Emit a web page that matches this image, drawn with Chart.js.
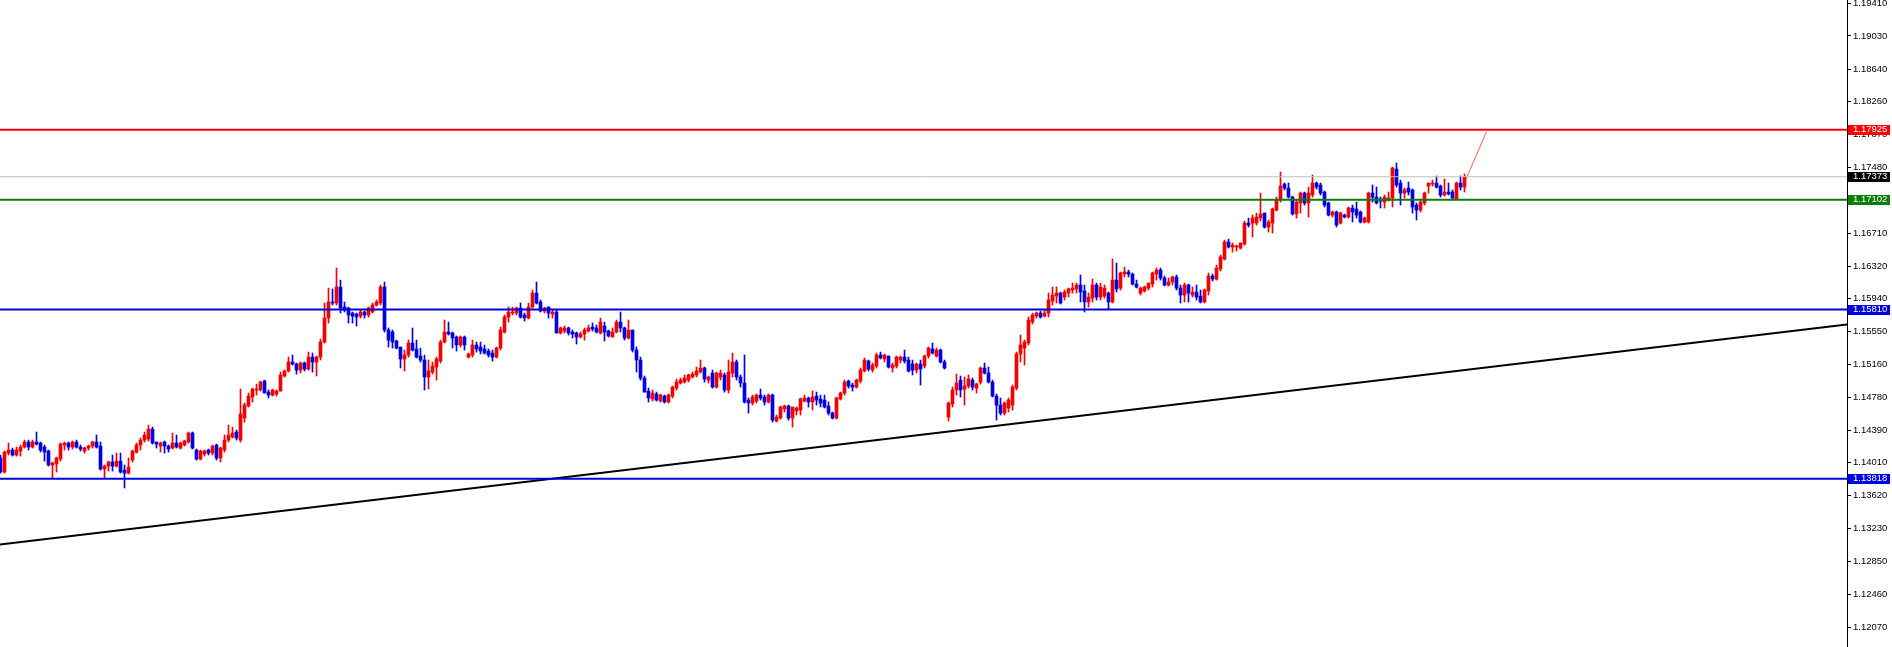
<!DOCTYPE html>
<html>
<head>
<meta charset="utf-8">
<script src="https://cdn.jsdelivr.net/npm/chart.js@4.4.0/dist/chart.umd.min.js"></script>
<style>
  html, body { margin: 0; padding: 0; background: #fff; overflow: hidden; }
</style>
</head>
<body>
<canvas id="chart" width="1892" height="647"></canvas>
<script>
// EURUSD-style candles, one entry per bar (oldest first)
const opens = [1.14063,1.13898,1.14121,1.14157,1.14098,1.14145,1.14192,1.14251,1.14192,1.14251,
1.14239,1.14192,1.14145,1.13980,1.13992,1.14051,1.14216,1.14239,1.14192,1.14251,
1.14192,1.14145,1.14180,1.14204,1.14251,1.14204,1.13933,1.13968,1.14016,1.13968,
1.14027,1.13921,1.13886,1.14039,1.14133,1.14216,1.14274,1.14286,1.14404,1.14251,
1.14204,1.14251,1.14204,1.14180,1.14239,1.14180,1.14216,1.14251,1.14357,1.14157,
1.14051,1.14110,1.14157,1.14121,1.14216,1.14063,1.14157,1.14274,1.14310,1.14369,
1.14274,1.14533,1.14675,1.14780,1.14863,1.14863,1.14969,1.14839,1.14804,1.14816,
1.14851,1.15028,1.15087,1.15193,1.15169,1.15098,1.15181,1.15110,1.15251,1.15193,
1.15251,1.15428,1.15710,1.15899,1.15887,1.16075,1.15840,1.15828,1.15769,1.15757,
1.15734,1.15781,1.15746,1.15781,1.15863,1.15887,1.16075,1.15569,1.15546,1.15440,
1.15369,1.15228,1.15275,1.15416,1.15346,1.15263,1.15216,1.15016,1.15075,1.15134,
1.15204,1.15428,1.15546,1.15534,1.15487,1.15393,1.15487,1.15251,1.15275,1.15393,
1.15369,1.15346,1.15322,1.15298,1.15251,1.15357,1.15546,1.15722,1.15769,1.15769,
1.15828,1.15746,1.15710,1.15840,1.16004,1.15899,1.15793,1.15840,1.15757,1.15781,
1.15534,1.15557,1.15593,1.15546,1.15534,1.15487,1.15522,1.15557,1.15604,1.15593,
1.15534,1.15616,1.15557,1.15487,1.15546,1.15663,1.15593,1.15475,1.15569,1.15334,
1.15216,1.15004,1.14851,1.14757,1.14816,1.14733,1.14792,1.14722,1.14792,1.14886,
1.14945,1.14957,1.14980,1.15016,1.15040,1.15075,1.15122,1.14980,1.15063,1.14898,
1.15016,1.15040,1.14863,1.15063,1.15193,1.15016,1.14945,1.14745,1.14710,1.14733,
1.14804,1.14780,1.14722,1.14804,1.14498,1.14533,1.14639,1.14675,1.14533,1.14616,
1.14627,1.14733,1.14769,1.14722,1.14792,1.14757,1.14745,1.14675,1.14592,1.14533,
1.14757,1.14828,1.14969,1.14922,1.14898,1.14969,1.15087,1.15204,1.15098,1.15145,
1.15275,1.15228,1.15263,1.15122,1.15145,1.15216,1.15251,1.15216,1.15169,1.15098,
1.15169,1.15145,1.15263,1.15346,1.15263,1.15334,1.15193,1.14545,1.14698,1.14863,
1.14980,1.14875,1.14910,1.14980,1.14886,1.14957,1.15122,1.15063,1.14957,1.14792,
1.14686,1.14592,1.14651,1.14686,1.14886,1.15287,1.15357,1.15416,1.15663,1.15734,
1.15769,1.15734,1.15769,1.15910,1.15969,1.16004,1.15957,1.16004,1.16040,1.16052,
1.16099,1.16028,1.15899,1.15946,1.16099,1.15957,1.15969,1.16004,1.15899,1.16157,
1.16063,1.16228,1.16252,1.16228,1.16110,1.16004,1.16028,1.16063,1.16110,1.16228,
1.16275,1.16181,1.16099,1.16134,1.16193,1.16063,1.15981,1.16099,1.15981,1.16016,
1.15969,1.15899,1.16028,1.16205,1.16169,1.16287,1.16405,1.16605,1.16546,1.16546,
1.16534,1.16581,1.16828,1.16828,1.16828,1.16887,1.16946,1.16781,1.16828,1.16981,
1.17099,1.17287,1.17240,1.17134,1.16934,1.17064,1.17181,1.17064,1.17158,1.17299,
1.17276,1.17193,1.17064,1.16922,1.16958,1.16828,1.16922,1.16899,1.17005,1.16993,
1.16958,1.16840,1.16840,1.17181,1.17134,1.17111,1.17075,1.17099,1.17123,1.17464,
1.17299,1.17181,1.17240,1.17217,1.17040,1.16981,1.17064,1.17264,1.17287,1.17299,
1.17264,1.17158,1.17193,1.17193,1.17111,1.17299,1.17252];

const highs = [1.14098,1.14145,1.14239,1.14180,1.14192,1.14216,1.14274,1.14274,1.14274,1.14369,
1.14251,1.14216,1.14157,1.14016,1.14074,1.14239,1.14251,1.14251,1.14263,1.14274,
1.14216,1.14192,1.14216,1.14263,1.14333,1.14251,1.13980,1.14027,1.14098,1.14121,
1.14121,1.13980,1.14063,1.14157,1.14239,1.14298,1.14369,1.14451,1.14427,1.14251,
1.14251,1.14263,1.14216,1.14357,1.14333,1.14251,1.14274,1.14369,1.14369,1.14169,
1.14157,1.14157,1.14169,1.14216,1.14227,1.14192,1.14333,1.14451,1.14427,1.14392,
1.14875,1.14710,1.14828,1.14886,1.14933,1.14969,1.14980,1.14863,1.14875,1.14863,
1.15075,1.15098,1.15251,1.15275,1.15181,1.15193,1.15193,1.15310,1.15298,1.15263,
1.15463,1.15887,1.16063,1.16052,1.16299,1.16157,1.15899,1.15840,1.15781,1.15769,
1.15804,1.15793,1.15840,1.15887,1.15922,1.16099,1.16134,1.15593,1.15569,1.15451,
1.15369,1.15334,1.15451,1.15593,1.15451,1.15357,1.15275,1.15216,1.15193,1.15251,
1.15451,1.15687,1.15663,1.15546,1.15499,1.15499,1.15499,1.15298,1.15451,1.15428,
1.15428,1.15393,1.15346,1.15334,1.15369,1.15604,1.15746,1.15840,1.15840,1.15840,
1.15887,1.15769,1.15887,1.16040,1.16134,1.15922,1.15840,1.15840,1.15804,1.15804,
1.15604,1.15616,1.15604,1.15569,1.15546,1.15546,1.15593,1.15628,1.15651,1.15628,
1.15710,1.15663,1.15569,1.15593,1.15687,1.15781,1.15604,1.15687,1.15569,1.15369,
1.15251,1.15028,1.14886,1.14863,1.14839,1.14816,1.14804,1.14816,1.14910,1.14992,
1.15004,1.15040,1.15051,1.15075,1.15134,1.15216,1.15134,1.15028,1.15098,1.15075,
1.15098,1.15063,1.15216,1.15298,1.15216,1.15040,1.15275,1.14769,1.14804,1.14816,
1.14875,1.14804,1.14816,1.14816,1.14569,1.14675,1.14686,1.14686,1.14663,1.14663,
1.14769,1.14804,1.14780,1.14851,1.14839,1.14804,1.14804,1.14722,1.14604,1.14780,
1.14839,1.14980,1.14980,1.14945,1.14992,1.15122,1.15240,1.15216,1.15181,1.15298,
1.15310,1.15287,1.15263,1.15181,1.15263,1.15263,1.15334,1.15251,1.15216,1.15181,
1.15216,1.15275,1.15369,1.15416,1.15357,1.15346,1.15216,1.14722,1.14898,1.15051,
1.15028,1.15016,1.15040,1.15004,1.14945,1.15134,1.15181,1.15134,1.14980,1.14816,
1.14769,1.14722,1.14769,1.14922,1.15310,1.15510,1.15451,1.15722,1.15769,1.15781,
1.15793,1.15804,1.16004,1.16075,1.16075,1.16016,1.16040,1.16063,1.16122,1.16122,
1.16216,1.16099,1.16004,1.16169,1.16122,1.16122,1.16099,1.16016,1.16405,1.16358,
1.16252,1.16310,1.16275,1.16240,1.16157,1.16075,1.16087,1.16122,1.16252,1.16299,
1.16299,1.16205,1.16181,1.16205,1.16216,1.16099,1.16122,1.16110,1.16075,1.16099,
1.16040,1.16052,1.16240,1.16228,1.16334,1.16452,1.16628,1.16640,1.16593,1.16569,
1.16593,1.16852,1.16887,1.16922,1.16946,1.17181,1.16946,1.16864,1.17005,1.17134,
1.17429,1.17299,1.17299,1.17146,1.17099,1.17193,1.17193,1.17252,1.17393,1.17311,
1.17299,1.17205,1.17075,1.16970,1.16970,1.16958,1.16934,1.17017,1.17040,1.17075,
1.16970,1.16899,1.17193,1.17276,1.17252,1.17134,1.17158,1.17193,1.17488,1.17535,
1.17334,1.17240,1.17311,1.17228,1.17064,1.17087,1.17193,1.17299,1.17334,1.17382,
1.17276,1.17346,1.17299,1.17217,1.17311,1.17382,1.17405];

const lows = [1.13886,1.13886,1.14098,1.14086,1.14086,1.14086,1.14180,1.14157,1.14180,1.14216,
1.14133,1.14027,1.13968,1.13827,1.13898,1.14027,1.14157,1.14157,1.14169,1.14180,
1.14145,1.14121,1.14157,1.14180,1.14180,1.13921,1.13827,1.13910,1.13910,1.13957,
1.13886,1.13710,1.13874,1.14016,1.14121,1.14157,1.14251,1.14263,1.14227,1.14180,
1.14133,1.14121,1.14133,1.14169,1.14180,1.14169,1.14204,1.14239,1.14169,1.14039,
1.14039,1.14086,1.14098,1.14098,1.14039,1.14016,1.14133,1.14251,1.14298,1.14274,
1.14251,1.14486,1.14663,1.14722,1.14804,1.14851,1.14828,1.14769,1.14792,1.14792,
1.14851,1.15016,1.15075,1.15157,1.15051,1.15063,1.15087,1.15098,1.15075,1.15028,
1.15216,1.15416,1.15651,1.15863,1.15863,1.15769,1.15781,1.15651,1.15651,1.15616,
1.15710,1.15710,1.15722,1.15769,1.15852,1.15863,1.15546,1.15369,1.15357,1.15346,
1.15122,1.15087,1.15251,1.15322,1.15240,1.15193,1.14863,1.14875,1.15051,1.14980,
1.15181,1.15416,1.15510,1.15357,1.15322,1.15369,1.15334,1.15240,1.15251,1.15310,
1.15287,1.15287,1.15251,1.15204,1.15240,1.15334,1.15534,1.15663,1.15746,1.15746,
1.15710,1.15675,1.15699,1.15828,1.15875,1.15781,1.15769,1.15710,1.15710,1.15534,
1.15522,1.15534,1.15510,1.15475,1.15404,1.15475,1.15451,1.15546,1.15557,1.15534,
1.15522,1.15440,1.15487,1.15487,1.15534,1.15546,1.15451,1.15463,1.15310,1.15075,
1.14980,1.14839,1.14722,1.14733,1.14733,1.14722,1.14710,1.14710,1.14769,1.14863,
1.14933,1.14945,1.14957,1.15004,1.15016,1.15063,1.14957,1.14945,1.14886,1.14886,
1.14980,1.14839,1.14828,1.15016,1.14980,1.14898,1.14710,1.14592,1.14686,1.14710,
1.14745,1.14686,1.14710,1.14486,1.14486,1.14522,1.14604,1.14510,1.14427,1.14569,
1.14569,1.14722,1.14663,1.14627,1.14686,1.14663,1.14651,1.14569,1.14522,1.14522,
1.14745,1.14804,1.14886,1.14851,1.14886,1.14945,1.15075,1.15087,1.15075,1.15122,
1.15228,1.15193,1.15122,1.15075,1.15122,1.15181,1.15181,1.15075,1.15040,1.15063,
1.14922,1.15122,1.15240,1.15287,1.15251,1.15181,1.15110,1.14498,1.14663,1.14804,
1.14780,1.14686,1.14886,1.14863,1.14828,1.14933,1.15051,1.14945,1.14780,1.14510,
1.14569,1.14569,1.14604,1.14627,1.14863,1.15193,1.15157,1.15393,1.15640,1.15710,
1.15710,1.15722,1.15722,1.15863,1.15887,1.15875,1.15922,1.15957,1.16004,1.16004,
1.15899,1.15781,1.15840,1.15899,1.15922,1.15922,1.15946,1.15816,1.15887,1.16016,
1.16040,1.16193,1.16193,1.16099,1.16063,1.15981,1.16016,1.16040,1.16075,1.16157,
1.16157,1.16087,1.16087,1.16099,1.16040,1.15887,1.15899,1.15899,1.15957,1.15922,
1.15887,1.15887,1.15981,1.16146,1.16157,1.16263,1.16393,1.16534,1.16487,1.16499,
1.16522,1.16569,1.16781,1.16664,1.16805,1.16852,1.16769,1.16722,1.16711,1.16970,
1.17075,1.17217,1.17123,1.16922,1.16887,1.16946,1.17040,1.16899,1.17134,1.17228,
1.17158,1.17017,1.16911,1.16899,1.16781,1.16817,1.16887,1.16887,1.16840,1.16887,
1.16828,1.16828,1.16828,1.17075,1.17052,1.17005,1.17005,1.17087,1.17017,1.17252,
1.17040,1.17123,1.17158,1.16946,1.16864,1.16958,1.17040,1.17181,1.17264,1.17240,
1.17134,1.17146,1.17158,1.17099,1.17099,1.17217,1.17193];

const closes = [1.13898,1.14133,1.14157,1.14098,1.14157,1.14192,1.14251,1.14192,1.14251,1.14227,
1.14157,1.14133,1.13980,1.14004,1.14063,1.14227,1.14239,1.14192,1.14251,1.14192,
1.14169,1.14180,1.14204,1.14251,1.14192,1.13933,1.13968,1.14016,1.13968,1.14027,
1.13898,1.13886,1.13957,1.14145,1.14216,1.14274,1.14333,1.14404,1.14239,1.14227,
1.14239,1.14204,1.14169,1.14239,1.14192,1.14239,1.14263,1.14357,1.14180,1.14051,
1.14145,1.14145,1.14121,1.14204,1.14063,1.14180,1.14274,1.14333,1.14357,1.14298,
1.14580,1.14686,1.14792,1.14875,1.14875,1.14957,1.14828,1.14804,1.14863,1.14851,
1.15040,1.15087,1.15193,1.15169,1.15098,1.15181,1.15110,1.15251,1.15193,1.15251,
1.15428,1.15710,1.15899,1.15887,1.16075,1.15828,1.15804,1.15746,1.15734,1.15722,
1.15781,1.15746,1.15828,1.15863,1.15899,1.16075,1.15569,1.15451,1.15428,1.15357,
1.15228,1.15275,1.15416,1.15334,1.15251,1.15216,1.15016,1.15087,1.15145,1.15228,
1.15428,1.15546,1.15522,1.15475,1.15393,1.15487,1.15393,1.15287,1.15393,1.15346,
1.15322,1.15298,1.15275,1.15251,1.15357,1.15569,1.15722,1.15781,1.15781,1.15828,
1.15722,1.15710,1.15840,1.16004,1.15887,1.15793,1.15828,1.15769,1.15781,1.15534,
1.15593,1.15593,1.15534,1.15522,1.15487,1.15522,1.15569,1.15593,1.15581,1.15546,
1.15663,1.15546,1.15499,1.15546,1.15663,1.15593,1.15475,1.15569,1.15334,1.15216,
1.15004,1.14839,1.14769,1.14828,1.14745,1.14804,1.14722,1.14804,1.14898,1.14957,
1.14980,1.15004,1.15040,1.15051,1.15087,1.15122,1.14992,1.15016,1.14898,1.15063,
1.15063,1.14863,1.15075,1.15193,1.15016,1.14945,1.14722,1.14710,1.14780,1.14804,
1.14769,1.14722,1.14804,1.14510,1.14545,1.14663,1.14675,1.14533,1.14663,1.14651,
1.14757,1.14769,1.14722,1.14780,1.14745,1.14710,1.14663,1.14592,1.14533,1.14769,
1.14828,1.14957,1.14910,1.14898,1.14980,1.15098,1.15216,1.15110,1.15157,1.15275,
1.15240,1.15275,1.15134,1.15157,1.15251,1.15251,1.15204,1.15087,1.15098,1.15169,
1.15110,1.15263,1.15357,1.15298,1.15334,1.15193,1.15122,1.14710,1.14863,1.14945,
1.14863,1.14910,1.14992,1.14898,1.14933,1.15122,1.15063,1.14957,1.14792,1.14686,
1.14592,1.14710,1.14745,1.14898,1.15287,1.15393,1.15428,1.15687,1.15746,1.15769,
1.15722,1.15769,1.15922,1.15981,1.16004,1.15887,1.16016,1.16052,1.16063,1.16099,
1.16016,1.15899,1.15957,1.16099,1.15957,1.16075,1.16063,1.15899,1.16157,1.16052,
1.16240,1.16252,1.16228,1.16110,1.16075,1.16063,1.16075,1.16122,1.16240,1.16275,
1.16181,1.16099,1.16134,1.16193,1.16063,1.15981,1.16099,1.16004,1.16016,1.15957,
1.15899,1.16040,1.16205,1.16169,1.16299,1.16428,1.16605,1.16546,1.16569,1.16558,
1.16593,1.16828,1.16805,1.16887,1.16899,1.16934,1.16781,1.16840,1.16993,1.17099,
1.17264,1.17240,1.17134,1.16934,1.17075,1.17181,1.17064,1.17181,1.17299,1.17252,
1.17181,1.17040,1.16922,1.16958,1.16805,1.16946,1.16899,1.17005,1.16958,1.16922,
1.16840,1.16887,1.17181,1.17134,1.17064,1.17087,1.17134,1.17123,1.17476,1.17276,
1.17181,1.17217,1.17193,1.17017,1.16981,1.17075,1.17181,1.17299,1.17299,1.17252,
1.17158,1.17193,1.17170,1.17123,1.17299,1.17252,1.17373];

// price axis labels shown on the right
const tickValues = [1.19410, 1.19030, 1.18640, 1.18260, 1.17870, 1.17480, 1.17090, 1.16710,
  1.16320, 1.15940, 1.15550, 1.15160, 1.14780, 1.14390, 1.14010, 1.13620, 1.13230,
  1.12850, 1.12460, 1.12070];

// horizontal levels and their tag colours
const levelPrices = [1.17925, 1.17373, 1.17102, 1.15810, 1.13818];
const levelColors = ["#ff0000", "#c0c0c0", "#0a7d0a", "#0000e0", "#0000e0"];
const levelWidths = [2, 1, 2, 2, 2];
const tagColors = ["#ff0000", "#000000", "#0a7d0a", "#0000e0", "#0000e0"];

// trend line (bar index, price) and the small projection stroke at the end
const trendLine = [[-0.125, 1.13044], [461.625, 1.15634]];
const projection = [[366.1, 1.17315], [371.5, 1.17903]];

const BULL = "#f50000";
const BEAR = "#0000e0";
const FONT_FAMILY = '"Liberation Sans", Arial, sans-serif';
const FONT_SIZE = 9.5;

const bars = closes.map((c, i) => i);
const colors = bars.map((i) => (closes[i] >= opens[i] ? BULL : BEAR));

const datasets = [];

levelPrices.forEach((p, i) => {
  datasets.push({
    type: "line",
    data: [{ x: -1, y: p }, { x: 470, y: p }],
    borderColor: levelColors[i],
    borderWidth: levelWidths[i],
    pointRadius: 0,
    order: 0,
  });
});

datasets.push({
  type: "line",
  data: trendLine.map((d) => ({ x: d[0], y: d[1] })),
  borderColor: "#000000",
  borderWidth: 2,
  pointRadius: 0,
  order: 0,
});

datasets.push({
  type: "line",
  data: projection.map((d) => ({ x: d[0], y: d[1] })),
  borderColor: "rgba(255,40,40,0.75)",
  borderWidth: 1,
  pointRadius: 0,
  order: 0,
});

// candle bodies
datasets.push({
  type: "bar",
  data: bars.map((i) => ({ x: i, y: [opens[i], closes[i]] })),
  backgroundColor: colors,
  borderWidth: 0,
  grouped: false,
  barPercentage: 1,
  categoryPercentage: 1,
  maxBarThickness: 3,
  minBarLength: 1,
  order: 1,
});

// wicks
datasets.push({
  type: "bar",
  data: bars.map((i) => ({ x: i, y: [lows[i], highs[i]] })),
  backgroundColor: colors,
  borderWidth: 0,
  grouped: false,
  barPercentage: 1,
  categoryPercentage: 1,
  maxBarThickness: 1,
  minBarLength: 1,
  order: 2,
});

const tagPlugin = {
  id: "priceTags",
  afterDraw(chart) {
    const { ctx, chartArea, scales } = chart;
    const y = scales.y;
    ctx.save();
    ctx.font = FONT_SIZE + "px " + FONT_FAMILY;
    ctx.textBaseline = "middle";
    ctx.textAlign = "left";
    levelPrices.forEach((p, i) => {
      const py = y.getPixelForValue(p);
      ctx.fillStyle = tagColors[i];
      ctx.fillRect(chartArea.right + 1, Math.round(py) - 5, 42, 10);
      ctx.fillStyle = "#ffffff";
      ctx.fillText(p.toFixed(5), chartArea.right + 6, py);
    });
    ctx.restore();
  },
};

new Chart(document.getElementById("chart"), {
  data: { datasets: datasets },
  options: {
    responsive: false,
    animation: false,
    devicePixelRatio: 1,
    layout: { padding: 0, autoPadding: false },
    plugins: {
      legend: { display: false },
      tooltip: { enabled: false },
    },
    scales: {
      x: {
        type: "linear",
        min: -0.125,
        max: 461.625,
        offset: false,
        display: false,
      },
      y: {
        type: "linear",
        position: "right",
        min: 1.11839,
        max: 1.19453,
        bounds: "data",
        afterBuildTicks: (scale) => {
          scale.ticks = tickValues.map((v) => ({ value: v }));
        },
        afterFit: (scale) => {
          scale.width = 45;
          scale.paddingTop = 0;
          scale.paddingBottom = 0;
        },
        ticks: {
          autoSkip: false,
          padding: 2,
          color: "#000000",
          font: { family: FONT_FAMILY, size: FONT_SIZE },
          callback: (v) => Number(v).toFixed(5),
        },
        grid: {
          drawOnChartArea: false,
          drawTicks: true,
          tickLength: 4,
          tickColor: "#000000",
        },
        border: { display: true, color: "#000000", width: 1 },
      },
    },
  },
  plugins: [tagPlugin],
});
</script>
</body>
</html>
